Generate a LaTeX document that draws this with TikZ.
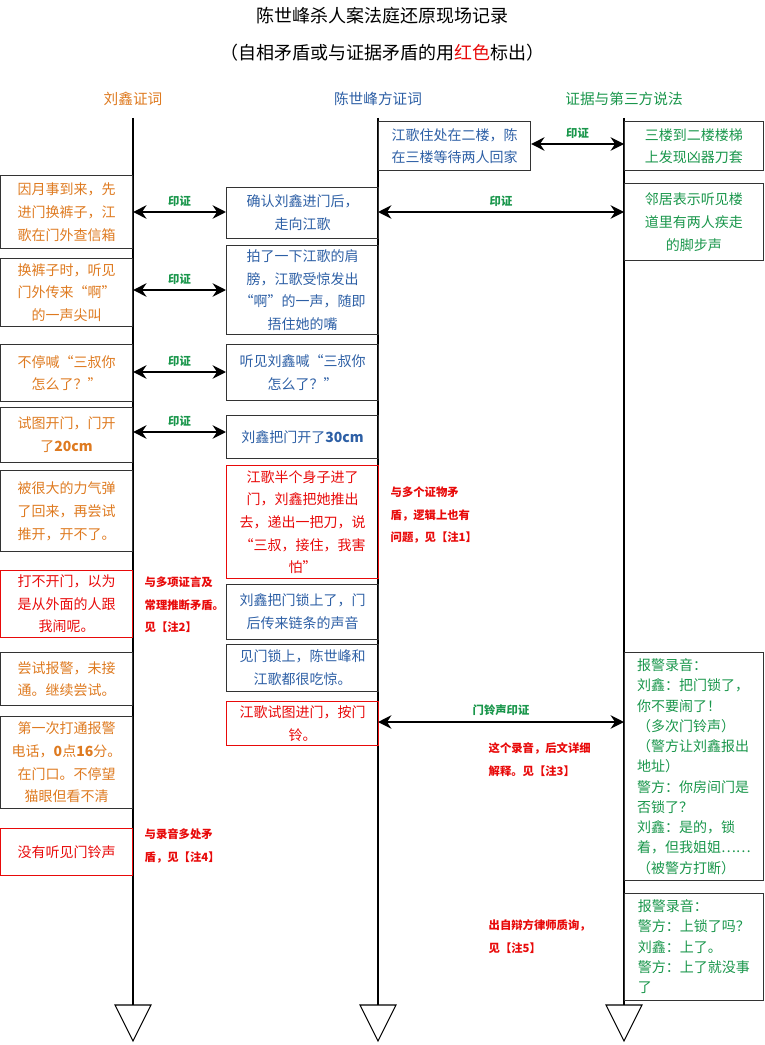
\documentclass[tikz,border=0pt]{standalone}
\usepackage{fontspec}
\setmainfont{Noto Sans CJK SC}
\usetikzlibrary{arrows.meta}
\definecolor{cor}{RGB}{222,122,32}
\definecolor{cbl}{RGB}{45,95,165}
\definecolor{cgr}{RGB}{25,150,75}
\definecolor{crd}{RGB}{232,10,10}
\tikzset{
 box/.style={draw=black!80, line width=0.8pt, inner sep=2pt, align=center, font=\fontsize{10.5}{17}\selectfont, anchor=north west},
 lbox/.style={box, text=cor, minimum width=99pt},
 mbox/.style={box, text=cbl, minimum width=114pt},
 rbox/.style={box, text=cgr, minimum width=104pt},
 tight/.style={font=\fontsize{10.5}{15.2}\selectfont, inner sep=1pt},
 redbox/.style={draw=crd, text=crd},
 dbl/.style={{Stealth[length=10pt,width=10pt]}-{Stealth[length=10pt,width=10pt]}, line width=2.2pt},
 lab/.style={text=cgr, font=\bfseries\fontsize{8.5}{10}\selectfont, above},
 note/.style={text=crd, font=\bfseries\fontsize{8.5}{17}\selectfont, align=left, anchor=north west},
 hdr/.style={font=\fontsize{11}{13}\selectfont},
 vline/.style={line width=2pt},
 tri/.style={draw=black, line width=0.8pt, fill=white}
}
\begin{document}
\begin{tikzpicture}[x=0.75pt,y=-0.75pt]
\useasboundingbox (0,0) rectangle (764,1045);
% titles
\node[font=\fontsize{13.5}{16}\selectfont] (t1) at (382,16) {陈世峰杀人案法庭还原现场记录};
\node[font=\fontsize{13.5}{16}\selectfont] (t2) at (382,53) {（自相矛盾或与证据矛盾的用\textcolor{crd}{红色}标出）};
\node[hdr, text=cor] (h1) at (133,99) {刘鑫证词};
\node[hdr, text=cbl] (h2) at (378,99) {陈世峰方证词};
\node[hdr, text=cgr] (h3) at (624,99) {证据与第三方说法};
% lifelines
\foreach \n/\x in {a/133,b/378,c/624}{
  \coordinate (top\n) at (\x,118);
  \coordinate (bot\n) at (\x,1005);
  \draw[vline] (top\n) -- (bot\n);
  \draw[tri] (\x-18,1005) -- (\x+18,1005) -- (\x,1041) -- cycle;
}
% left boxes
\node[lbox, minimum height=55pt] (L1) at (0,175) {因月事到来，先\\进门换裤子，江\\歌在门外查信箱};
\node[lbox, minimum height=51pt] (L2) at (0,258) {换裤子时，听见\\门外传来“啊”\\的一声尖叫};
\node[lbox, minimum height=43pt] (L3) at (0,344) {不停喊“三叔你\\怎么了？”};
\node[lbox, minimum height=41pt] (L4) at (0,407) {试图开门，门开\\了\textbf{20cm}};
\node[lbox, minimum height=61pt] (L5) at (0,470) {被很大的力气弹\\了回来，再尝试\\推开，开不了。};
\node[lbox, redbox, minimum height=50pt] (L6) at (0,570) {打不开门，以为\\是从外面的人跟\\我闹呢。};
\node[lbox, minimum height=40pt] (L7) at (0,652) {尝试报警，未接\\通。继续尝试。};
\node[lbox, minimum height=69pt] (L8) at (0,716) {第一次打通报警\\电话，\textbf{0}点\textbf{16}分。\\在门口。不停望\\猫眼但看不清};
\node[lbox, redbox, minimum height=35pt] (L9) at (0,828) {没有听见门铃声};
% middle boxes
\node[mbox, minimum height=37pt] (M0) at (378,121) {江歌住处在二楼，陈\\在三楼等待两人回家};
\node[mbox, minimum height=38pt] (M1) at (226,187) {确认刘鑫进门后，\\走向江歌};
\node[mbox, minimum height=67pt] (M2) at (226,245) {拍了一下江歌的肩\\膀，江歌受惊发出\\“啊”的一声，随即\\捂住她的嘴};
\node[mbox, minimum height=42pt] (M3) at (226,344) {听见刘鑫喊“三叔你\\怎么了？”};
\node[mbox, minimum height=32pt] (M4) at (226,415) {刘鑫把门开了\textbf{30cm}};
\node[mbox, redbox, minimum height=85pt] (M5) at (226,465) {江歌半个身子进了\\门，刘鑫把她推出\\去，递出一把刀，说\\“三叔，接住，我害\\怕”};
\node[mbox, minimum height=41pt] (M6) at (226,584) {刘鑫把门锁上了，门\\后传来链条的声音};
\node[mbox, minimum height=35pt] (M7) at (226,644) {见门锁上，陈世峰和\\江歌都很吃惊。};
\node[mbox, redbox, minimum height=33pt] (M8) at (226,701) {江歌试图进门，按门\\铃。};
% right boxes
\node[rbox, minimum height=37pt] (R1) at (624,121) {三楼到二楼楼梯\\上发现凶器刀套};
\node[rbox, minimum height=58pt] (R2) at (624,183) {邻居表示听见楼\\道里有两人疾走\\的脚步声};
\node[rbox, tight, minimum height=171pt, align=left] (R3) at (624,652) {报警录音：\\刘鑫：把门锁了，\\你不要闹了！\\（多次门铃声）\\（警方让刘鑫报出\\地址）\\警方：你房间门是\\否锁了？\\刘鑫：是的，锁\\着，但我姐姐……\\（被警方打断）};
\node[rbox, tight, minimum height=80pt, align=left] (R4) at (624,893) {报警录音：\\警方：上锁了吗？\\刘鑫：上了。\\警方：上了就没事\\了};
% arrows
\draw[dbl] (M0.east |- 0,144) -- node[lab]{印证} (R1.west |- 0,144);
\draw[dbl] (L1.east |- 0,212) -- node[lab]{印证} (M1.west |- 0,212);
\draw[dbl] (topb |- 0,212) -- node[lab]{印证} (R2.west |- 0,212);
\draw[dbl] (L2.east |- 0,290) -- node[lab]{印证} (M2.west |- 0,290);
\draw[dbl] (L3.east |- 0,372) -- node[lab]{印证} (M3.west |- 0,372);
\draw[dbl] (L4.east |- 0,432) -- node[lab]{印证} (M4.west |- 0,432);
\draw[dbl] (topb |- 0,722) -- node[lab]{门铃声印证} (R3.west |- 0,722);
% notes
\node[note] (n1) at (386,482) {与多个证物矛\\盾，逻辑上也有\\问题，见【注1】};
\node[note] (n2) at (140,572) {与多项证言及\\常理推断矛盾。\\见【注2】};
\node[note] (n3) at (484,738) {这个录音，后文详细\\解释。见【注3】};
\node[note] (n4) at (140,824) {与录音多处矛\\盾，见【注4】};
\node[note] (n5) at (484,915) {出自辩方律师质询，\\见【注5】};
\end{tikzpicture}
\end{document}
